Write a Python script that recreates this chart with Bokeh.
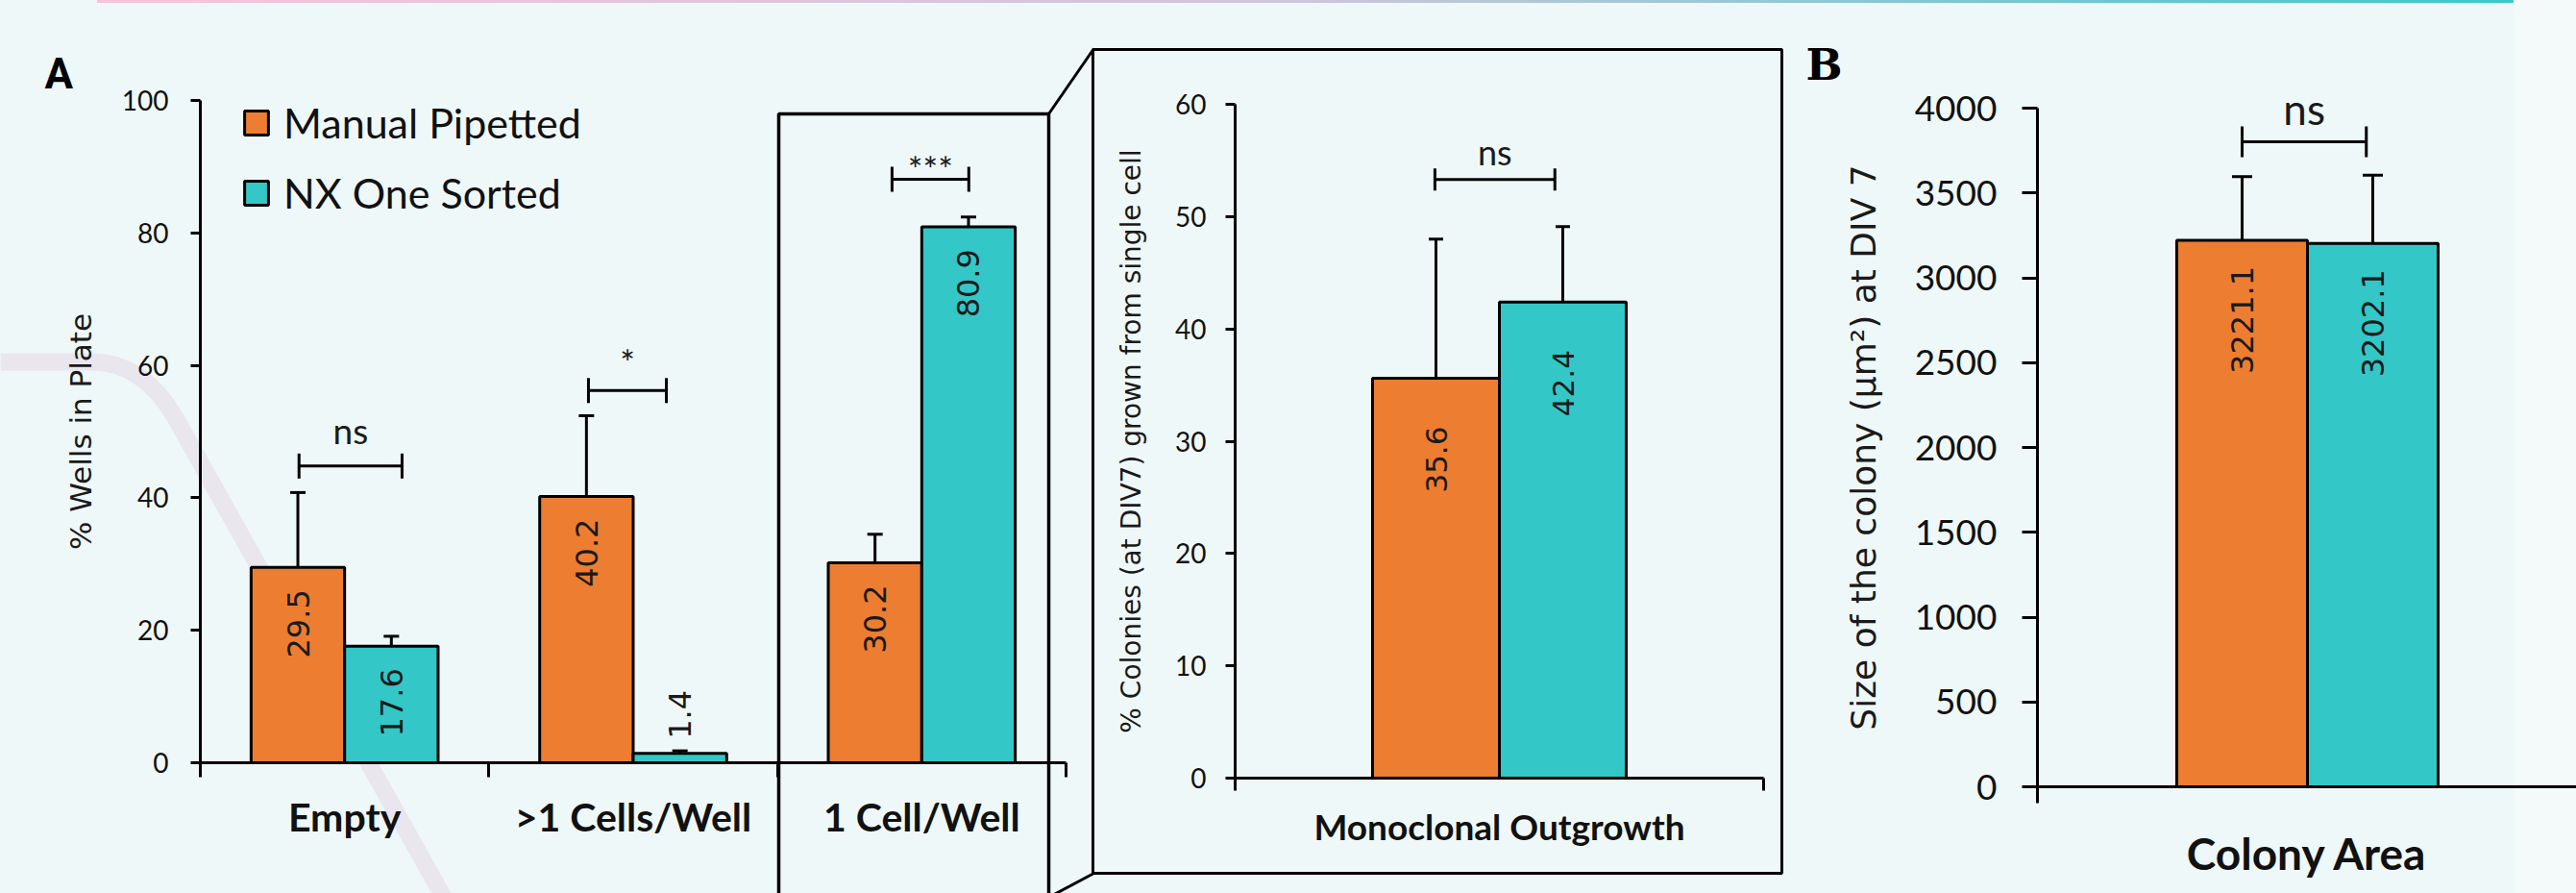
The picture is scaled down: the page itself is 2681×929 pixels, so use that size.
import math
from bokeh.plotting import figure
from bokeh.models import (ColumnDataSource, Whisker, TeeHead, Label, LinearAxis,
                          FixedTicker, Range1d)
from bokeh.transform import dodge
from bokeh.core.properties import value
from bokeh.embed import file_html
from bokeh.resources import INLINE

# ---------------- data ----------------
series_names = ["Manual Pipetted", "NX One Sorted"]
series_colors = ["#ED7D31", "#33C7C7"]

a_categories = ["Empty", ">1 Cells/Well", "1 Cell/Well"]
a_manual = [29.5, 40.2, 30.2]
a_manual_err = [40.8, 52.4, 34.5]
a_nx = [17.6, 1.4, 80.9]
a_nx_err = [19.1, 1.8, 82.4]
a_sig_text = ["ns", "*", "***"]
a_sig_bracket = [44.8, 56.2, 88.1]
a_sig_label = [50.2, 60.5, 89.7]
a_yticks = [0, 20, 40, 60, 80, 100]
a_ytitle = "% Wells in Plate"

i_categories = ["Monoclonal Outgrowth"]
i_manual = [35.6]
i_manual_err = [48.0]
i_nx = [42.4]
i_nx_err = [49.1]
i_sig_text = ["ns"]
i_sig_bracket = [53.3]
i_sig_label = [55.8]
i_yticks = [0, 10, 20, 30, 40, 50, 60]
i_ytitle = "% Colonies (at DIV7) grown from single cell"

b_categories = ["Colony Area"]
b_manual = [3221.1]
b_manual_err = [3596.0]
b_nx = [3202.1]
b_nx_err = [3605.0]
b_sig_text = ["ns"]
b_sig_bracket = [3802.0]
b_sig_label = [4000.0]
b_yticks = [0, 500, 1000, 1500, 2000, 2500, 3000, 3500, 4000]
b_ytitle = "Size of the colony (µm²) at DIV 7"

# ---------------- layout / style (page pixels) ----------------
W, H = 2681, 929
INK = "#111111"

A_CFG = dict(x0=208, x1=1109, y0=793, y1=104, ymax=100,
             bar_off=0.162, bar_w=0.324, cap=16, tee=26,
             bracket_offs=[(-0.158, 0.199), (-0.155, 0.115), (-0.103, 0.163)],
             tick_font=28, tick_out=10, tick_standoff=23,
             title_font=31, title_standoff=22,
             cat_font=41, cat_standoff=16, xtick=15,
             val_font=32, val_gap=23, sig_font=37)
I_CFG = dict(x0=1285, x1=1835, y0=809, y1=108, ymax=60,
             bar_off=0.12, bar_w=0.24, cap=15, tee=23,
             bracket_offs=[(-0.122, 0.105)],
             tick_font=28, tick_out=10, tick_standoff=20,
             title_font=28, title_standoff=26,
             cat_font=37, cat_standoff=14, xtick=13,
             val_font=31, val_gap=50, sig_font=36)
B_CFG = dict(x0=2120, x1=2682, y0=818, y1=112, ymax=4000,
             bar_off=0.121, bar_w=0.242, cap=21, tee=32,
             bracket_offs=[(-0.121, 0.109)],
             tick_font=37, tick_out=16, tick_standoff=26,
             title_font=36, title_standoff=30,
             cat_font=46, cat_standoff=24, xtick=17,
             val_font=32, val_gap=27, sig_font=44)


def x_range_for(n, cfg):
    unit = (cfg["x1"] - cfg["x0"]) / n
    start = -0.5 - cfg["x0"] / unit
    return Range1d(start, start + W / unit)


def y_range_for(cfg):
    unit = (cfg["y0"] - cfg["y1"]) / cfg["ymax"]
    return Range1d(-(H - cfg["y0"]) / unit, cfg["ymax"] + cfg["y1"] / unit)


panels = [("A", A_CFG, a_categories), ("I", I_CFG, i_categories), ("B", B_CFG, b_categories)]
p = figure(width=W, height=H, x_range=Range1d(0, W), y_range=Range1d(H, 0),
           extra_x_ranges={k: x_range_for(len(c), cfg) for k, cfg, c in panels},
           extra_y_ranges={k: y_range_for(cfg) for k, cfg, c in panels},
           x_axis_location=None, y_axis_location=None, min_border=0,
           output_backend="svg", toolbar_location=None)
p.background_fill_color = None
p.border_fill_color = None
p.outline_line_color = None
p.xgrid.visible = False
p.ygrid.visible = False

# ---------------- decorations (drawn first, underneath) ----------------
band = [(0, 376), (95, 376)]
for n in range(1, 9):
    t = n / 8
    band.append(((1 - t) ** 2 * 95 + 2 * (1 - t) * t * 148 + t ** 2 * 182,
                 (1 - t) ** 2 * 376 + 2 * (1 - t) * t * 376 + t ** 2 * 434))
band.append((468, 945))
p.line(x=[q[0] for q in band], y=[q[1] for q in band], line_color="#EAE6EE", line_width=18,
       line_join="round", level="underlay")


def add_panel(name, cfg, cats, vals, errs, sig_text, sig_bracket, sig_label, yticks, ytitle, legend=False):
    n = len(cats)
    rn = dict(x_range_name=name, y_range_name=name)

    ya = LinearAxis(**rn, fixed_location=-0.5, bounds=(0, cfg["ymax"]), ticker=FixedTicker(ticks=yticks))
    ya.axis_line_width = 3
    ya.axis_line_color = "black"
    ya.major_tick_line_width = 3
    ya.major_tick_line_color = "black"
    ya.major_tick_out = cfg["tick_out"]
    ya.major_tick_in = 0
    ya.minor_tick_line_color = None
    ya.major_label_standoff = cfg["tick_standoff"]
    ya.major_label_text_font = "Lato"
    ya.major_label_text_font_size = f"{cfg['tick_font']}px"
    ya.major_label_text_color = INK
    ya.axis_label = ytitle
    ya.axis_label_text_font = "DejaVu Sans"
    ya.axis_label_text_font_style = "normal"
    ya.axis_label_text_font_size = f"{cfg['title_font']}px"
    ya.axis_label_text_color = "#1a1a1a"
    ya.axis_label_standoff = cfg["title_standoff"]
    p.add_layout(ya, "left")

    xa = LinearAxis(**rn, fixed_location=0, bounds=(-0.5, n - 0.5),
                    ticker=FixedTicker(ticks=list(range(n)), minor_ticks=[i - 0.5 for i in range(n + 1)]),
                    major_label_overrides={i: c for i, c in enumerate(cats)})
    xa.axis_line_width = 3
    xa.axis_line_color = "black"
    xa.major_tick_out = 0
    xa.major_tick_in = 0
    xa.major_tick_line_color = None
    xa.minor_tick_out = cfg["xtick"]
    xa.minor_tick_in = 0
    xa.minor_tick_line_width = 3
    xa.minor_tick_line_color = "black"
    xa.major_label_standoff = cfg["cat_standoff"]
    xa.major_label_text_font = "Lato"
    xa.major_label_text_font_style = "bold"
    xa.major_label_text_font_size = f"{cfg['cat_font']}px"
    xa.major_label_text_color = INK
    p.add_layout(xa, "below")

    frame_h = cfg["y0"] - cfg["y1"]
    idx = list(range(n))
    for k, (sname, color) in enumerate(zip(series_names, series_colors)):
        off = (-1 if k == 0 else 1) * cfg["bar_off"]
        src = ColumnDataSource(dict(idx=idx, val=vals[k], err=errs[k]))
        kw = dict(legend_label=sname) if legend else {}
        p.vbar(x=dodge("idx", off), top="val", width=cfg["bar_w"], source=src, **rn,
               fill_color=color, line_color="black", line_width=3, **kw)
        p.add_layout(Whisker(base=dodge("idx", off), lower="val", upper="err", source=src, **rn,
                             dimension="height", line_width=3, line_color="black",
                             upper_head=TeeHead(size=cfg["cap"], line_width=3, line_color="black"),
                             lower_head=None))
        inside = [i for i, v in enumerate(vals[k]) if v / cfg["ymax"] * frame_h > 90]
        outside = [i for i in idx if i not in inside]
        for sel, align, yoff in ((inside, "right", cfg["val_gap"]), (outside, "left", -15)):
            if not sel:
                continue
            s2 = ColumnDataSource(dict(idx=sel, val=[vals[k][i] for i in sel],
                                       lbl=[f"{vals[k][i]:.1f}" for i in sel]))
            p.text(x=dodge("idx", off), y="val", text="lbl", source=s2, **rn,
                   angle=math.pi / 2, text_align=align, text_baseline="middle", y_offset=yoff,
                   text_font=value("DejaVu Sans"), text_font_size=f"{cfg['val_font']}px",
                   text_color="#1a1a1a")

    for j in idx:
        lo, hi = cfg["bracket_offs"][j]
        s3 = ColumnDataSource(dict(idx=[j], by=[sig_bracket[j]], ly=[sig_label[j]], t=[sig_text[j]]))
        p.add_layout(Whisker(base="by", lower=dodge("idx", lo), upper=dodge("idx", hi), source=s3, **rn,
                             dimension="width", line_width=3, line_color="black",
                             upper_head=TeeHead(size=cfg["tee"], line_width=3, line_color="black"),
                             lower_head=TeeHead(size=cfg["tee"], line_width=3, line_color="black")))
        p.text(x=dodge("idx", (lo + hi) / 2), y="ly", text="t", source=s3, **rn,
               text_align="center", text_baseline="alphabetic",
               text_font=value("Lato"), text_font_size=f"{cfg['sig_font']}px", text_color="#1a1a1a")


add_panel("A", A_CFG, a_categories, [a_manual, a_nx], [a_manual_err, a_nx_err],
          a_sig_text, a_sig_bracket, a_sig_label, a_yticks, a_ytitle, legend=True)
add_panel("I", I_CFG, i_categories, [i_manual, i_nx], [i_manual_err, i_nx_err],
          i_sig_text, i_sig_bracket, i_sig_label, i_yticks, i_ytitle)
add_panel("B", B_CFG, b_categories, [b_manual, b_nx], [b_manual_err, b_nx_err],
          b_sig_text, b_sig_bracket, b_sig_label, b_yticks, b_ytitle)

# legend
lg = p.legend[0]
lg.location = (251, 703)
lg.padding = 0
lg.margin = 0
lg.spacing = 22
lg.glyph_width = 31
lg.glyph_height = 31
lg.label_standoff = 13
lg.label_text_font = "Lato"
lg.label_text_font_size = "43px"
lg.label_text_color = INK
lg.background_fill_alpha = 0
lg.border_line_color = None

# panel letters
p.add_layout(Label(x=46, y=76, text="A", text_font="Roboto", text_font_style="bold",
                   text_font_size="44px", text_baseline="alphabetic", text_color="black"))
p.add_layout(Label(x=1879, y=67, text="B", text_font="DejaVu Serif", text_font_style="bold",
                   text_font_size="45px", text_baseline="alphabetic", text_color="black"))

# highlight box around "1 Cell/Well", zoom lines and inset frame
p.line(x=[810, 810, 1091, 1091], y=[945, 118, 118, 945], line_color="black", line_width=3.5)
p.line(x=[1091, 1138], y=[118, 50], line_color="black", line_width=3)
p.line(x=[1091, 1138], y=[933, 908], line_color="black", line_width=3)
p.line(x=[1137, 1854, 1854, 1137, 1137], y=[51, 51, 908, 908, 51], line_color="black", line_width=3)

html = file_html(p, INLINE, title="Monoclonal outgrowth comparison")
css = ("<style>html,body{margin:0;padding:0;overflow:hidden;"
       "background:linear-gradient(90deg,#F6C4DA,#CCC6DA 50%,#3CC8C6) 101px 0/2515px 3px no-repeat,"
       "linear-gradient(#F4FAFA,#F4FAFA) 2617px 0/64px 100% no-repeat,#EFF8F8;}</style>")
html = html.replace("</head>", css + "</head>", 1)
open("out.html", "w").write(html)
